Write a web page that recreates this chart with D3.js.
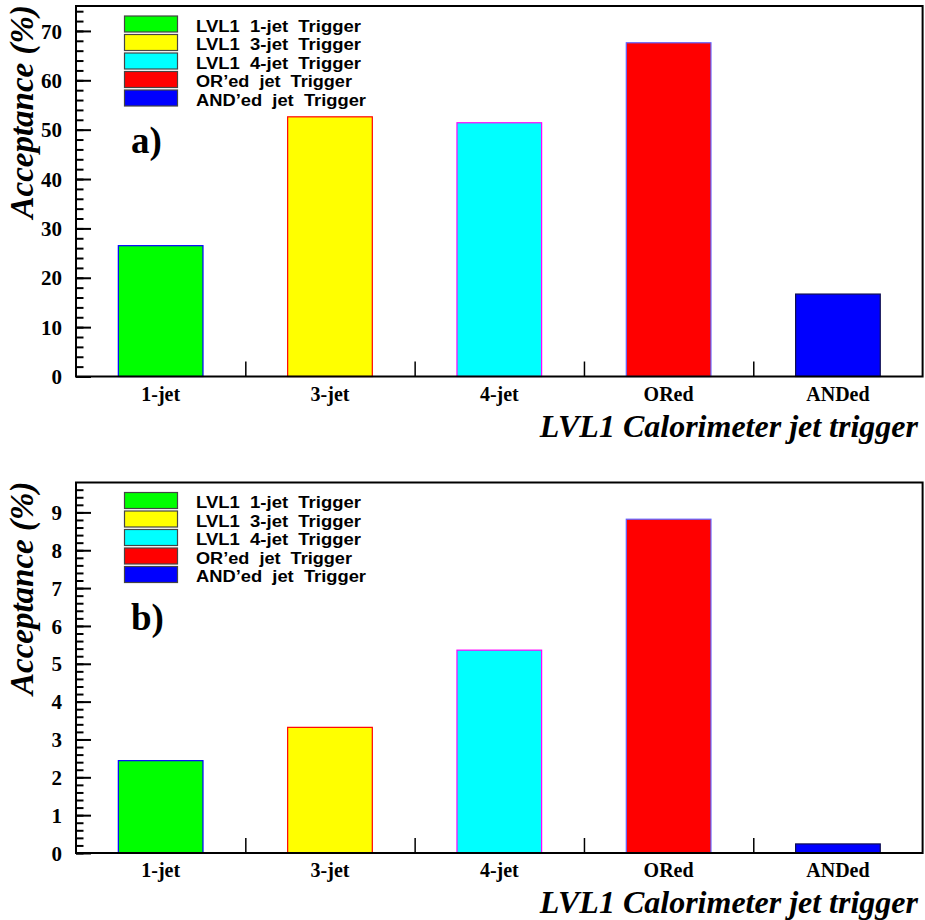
<!DOCTYPE html>
<html><head><meta charset="utf-8">
<script src="https://cdn.jsdelivr.net/npm/d3@7"></script>
<style>
body{margin:0;background:#fff;}
svg{display:block;}
.serif{font-family:"Liberation Serif","Times New Roman",Times,"DejaVu Serif",serif;font-weight:bold;}
.sansb{font-family:"Liberation Sans",Arial,Helvetica,sans-serif;font-weight:bold;}
</style></head>
<body>
<script>
const categories = ["1-jet","3-jet","4-jet","ORed","ANDed"];
const acceptanceA = [26.5, 52.6, 51.4, 67.6, 16.7];
const acceptanceB = [2.44, 3.32, 5.36, 8.82, 0.24];
const panelTags = ["a)", "b)"];
const yMaxes = [75.05, 9.79];
const majorSteps = [10, 1];
const minorSteps = [2, 0.2];
const legendLabels = ["LVL1  1-jet  Trigger","LVL1  3-jet  Trigger","LVL1  4-jet  Trigger","OR\u2019ed  jet  Trigger","AND\u2019ed  jet  Trigger"];
const legendWidths = [165, 165, 165, 156, 170];
const fillColors = ["#00ff00","#ffff00","#00ffff","#ff0000","#0000ff"];
const edgeColors = ["#0000ff","#ff0000","#ff00ff","#6060ff","#101050"];
const xTitle = "LVL1 Calorimeter jet trigger";
const yTitle = "Acceptance (%)";

const W = 925, H = 920;
const svg = d3.select("body").append("svg").attr("width", W).attr("height", H);

const left = 76, right = 922.6, panelH = 370.5;
const panelTops = [6, 482.5];

function panel(i, values) {
  const top = panelTops[i], bottom = top + panelH;
  const g = svg.append("g");
  const x = d3.scaleBand().domain(categories).range([left, right]).paddingInner(0.5).paddingOuter(0.25);
  const xb = d3.scaleLinear().domain([0, categories.length]).range([left, right]);
  const y = d3.scaleLinear().domain([0, yMaxes[i]]).range([bottom, top]);

  g.selectAll("rect.bar").data(values).join("rect")
    .attr("x", (d, k) => x(categories[k]))
    .attr("y", d => y(d))
    .attr("width", x.bandwidth())
    .attr("height", d => y(0) - y(d))
    .attr("fill", (d, k) => fillColors[k])
    .attr("stroke", (d, k) => edgeColors[k])
    .attr("stroke-width", 1.2);

  const minorVals = d3.range(0, yMaxes[i] + 1e-9, minorSteps[i]);
  const ym = g.append("g").attr("transform", `translate(${left},0)`)
    .call(d3.axisLeft(y).tickValues(minorVals).tickSize(-7.5).tickFormat(""));
  ym.select(".domain").remove();
  ym.selectAll("line").attr("stroke", "#000").attr("stroke-width", 2);

  const majorVals = d3.range(0, yMaxes[i] + 1e-9, majorSteps[i]);
  const ya = g.append("g").attr("transform", `translate(${left},0)`)
    .call(d3.axisLeft(y).tickValues(majorVals).tickSize(-15).tickPadding(14).tickFormat(d3.format("d")));
  ya.attr("font-family", null).attr("font-size", null);
  ya.select(".domain").remove();
  ya.selectAll("line").attr("stroke", "#000").attr("stroke-width", 2);
  ya.selectAll("text").attr("class", "serif").style("font-size", "21px").attr("fill", "#000").attr("dy", "0.34em");

  const xt = g.append("g").attr("transform", `translate(0,${bottom})`)
    .call(d3.axisBottom(xb).tickValues([1, 2, 3, 4]).tickSize(-15).tickFormat(""));
  xt.select(".domain").remove();
  xt.selectAll("line").attr("stroke", "#000").attr("stroke-width", 1.5);

  const xa = g.append("g").attr("transform", `translate(0,${bottom})`)
    .call(d3.axisBottom(x).tickSize(0).tickPadding(10));
  xa.attr("font-family", null).attr("font-size", null);
  xa.select(".domain").remove();
  xa.selectAll("text").attr("class", "serif").style("font-size", "20px").attr("fill", "#000");

  g.append("rect").attr("x", left).attr("y", top).attr("width", right - left).attr("height", panelH)
    .attr("fill", "none").attr("stroke", "#000").attr("stroke-width", 2);

  const lg = g.append("g");
  legendLabels.forEach((lab, k) => {
    const cy = top + 18 + k * 18.5;
    lg.append("rect").attr("x", 124.5).attr("y", cy - 8).attr("width", 53).attr("height", 16)
      .attr("fill", fillColors[k]).attr("stroke", "#444").attr("stroke-width", 1.2);
    lg.append("text").attr("x", 196).attr("y", cy + 7.5).attr("class", "sansb")
      .style("font-size", "16px").style("white-space", "pre")
      .attr("textLength", legendWidths[k]).attr("lengthAdjust", "spacingAndGlyphs")
      .attr("fill", "#000").text(lab);
  });

  g.append("text").attr("x", 131).attr("y", top + 147).attr("class", "serif")
    .style("font-size", "37px").attr("fill", "#000").text(panelTags[i]);

  g.append("text").attr("x", 918).attr("y", bottom + 60).attr("text-anchor", "end")
    .attr("class", "serif").style("font-style", "italic")
    .style("font-size", "32px").attr("fill", "#000").text(xTitle);
  g.append("text").attr("transform", `translate(33,${top - 1}) rotate(-90)`).attr("text-anchor", "end")
    .attr("class", "serif").style("font-style", "italic")
    .style("font-size", "33px").attr("fill", "#000").text(yTitle);
}

panel(0, acceptanceA);
panel(1, acceptanceB);
</script>
</body></html>
